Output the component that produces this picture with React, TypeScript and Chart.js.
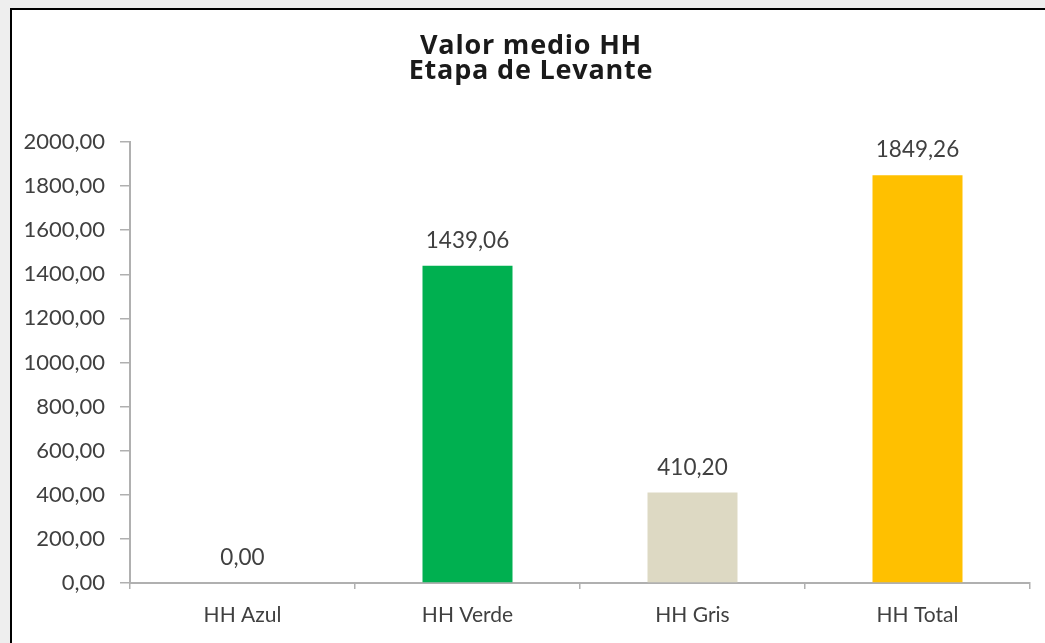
import React, { useEffect, useRef } from "react";
import { Chart, registerables } from "chart.js";

Chart.register(...registerables);

const categories = ["HH Azul", "HH Verde", "HH Gris", "HH Total"];
const values = [0, 1439.06, 410.2, 1849.26];
const barColors = ["#0070C0", "#00B050", "#DDD9C3", "#FFC000"];
const titleLines = ["Valor medio HH", "Etapa de Levante"];
const yMin = 0;
const yMax = 2000;
const yStep = 200;

const FONT = 'Lato, "Open Sans", sans-serif';
const TITLE_FONT = '"Open Sans", Lato, sans-serif';
const fmt = (v: number) => v.toFixed(2).replace(".", ",");

const valueLabels = {
  id: "valueLabels",
  afterDatasetsDraw(chart: any) {
    const ctx = chart.ctx;
    const meta = chart.getDatasetMeta(0);
    ctx.save();
    ctx.font = `22.5px ${FONT}`;
    ctx.fillStyle = "#404040";
    ctx.textAlign = "center";
    ctx.textBaseline = "middle";
    meta.data.forEach((bar: any, i: number) => {
      ctx.fillText(fmt(values[i]), bar.x, bar.y - 25);
    });
    ctx.restore();
  },
};

// Title centred on the whole (cropped) chart box rather than the plot area
const boxTitle = {
  id: "boxTitle",
  afterDraw(chart: any) {
    const ctx = chart.ctx;
    ctx.save();
    ctx.font = `bold 27px ${TITLE_FONT}`;
    try {
      (ctx as any).letterSpacing = "0.8px";
    } catch (e) {}
    ctx.fillStyle = "#1a1a1a";
    ctx.textAlign = "center";
    ctx.textBaseline = "middle";
    const cx = 519;
    titleLines.forEach((line, i) => {
      ctx.fillText(line, cx, 36.5 + i * 25);
    });
    ctx.restore();
  },
};

export default function App() {
  const ref = useRef<HTMLCanvasElement>(null);
  useEffect(() => {
    if (!ref.current) return;
    const chart = new Chart(ref.current, {
      type: "bar",
      data: {
        labels: categories,
        datasets: [
          {
            data: values,
            backgroundColor: barColors,
            barPercentage: 0.4,
            categoryPercentage: 1,
          },
        ],
      },
      options: {
        responsive: false,
        animation: false,
        devicePixelRatio: 1,
        layout: { padding: { left: 0, right: 15, top: 132, bottom: 0 } },
        plugins: {
          legend: { display: false },
          tooltip: { enabled: false },
          title: { display: false },
        },
        scales: {
          x: {
            grid: {
              display: true,
              drawOnChartArea: false,
              drawTicks: true,
              tickLength: 6,
              color: "#b0b0b0",
              lineWidth: 1.5,
            },
            border: { display: true, color: "#b0b0b0", width: 2 },
            ticks: {
              color: "#404040",
              font: { family: FONT, size: 21 },
              padding: 14,
            },
            afterFit: (s: any) => {
              s.height = 60;
            },
          },
          y: {
            min: yMin,
            max: yMax,
            grid: {
              display: true,
              drawOnChartArea: false,
              drawTicks: true,
              tickLength: 10,
              color: "#b0b0b0",
              lineWidth: 1.5,
            },
            border: { display: true, color: "#b0b0b0", width: 2 },
            ticks: {
              stepSize: yStep,
              color: "#404040",
              font: { family: FONT, size: 22 },
              padding: 15,
              callback: (v: any) => fmt(Number(v)),
            },
            afterFit: (s: any) => {
              s.width = 118;
            },
          },
        },
      },
      plugins: [valueLabels, boxTitle],
    });
    return () => chart.destroy();
  }, []);

  return (
    <div
      style={{
        position: "fixed",
        left: 0,
        top: 0,
        right: 0,
        bottom: 0,
        background: "#eeeeee",
        overflow: "hidden",
      }}
    >
      <div
        style={{
          position: "absolute",
          left: 10,
          top: 8,
          width: 1060,
          height: 660,
          border: "2px solid #000",
          background: "#fff",
        }}
      >
        <canvas ref={ref} width={1033} height={633} style={{ display: "block" }} />
      </div>
    </div>
  );
}
